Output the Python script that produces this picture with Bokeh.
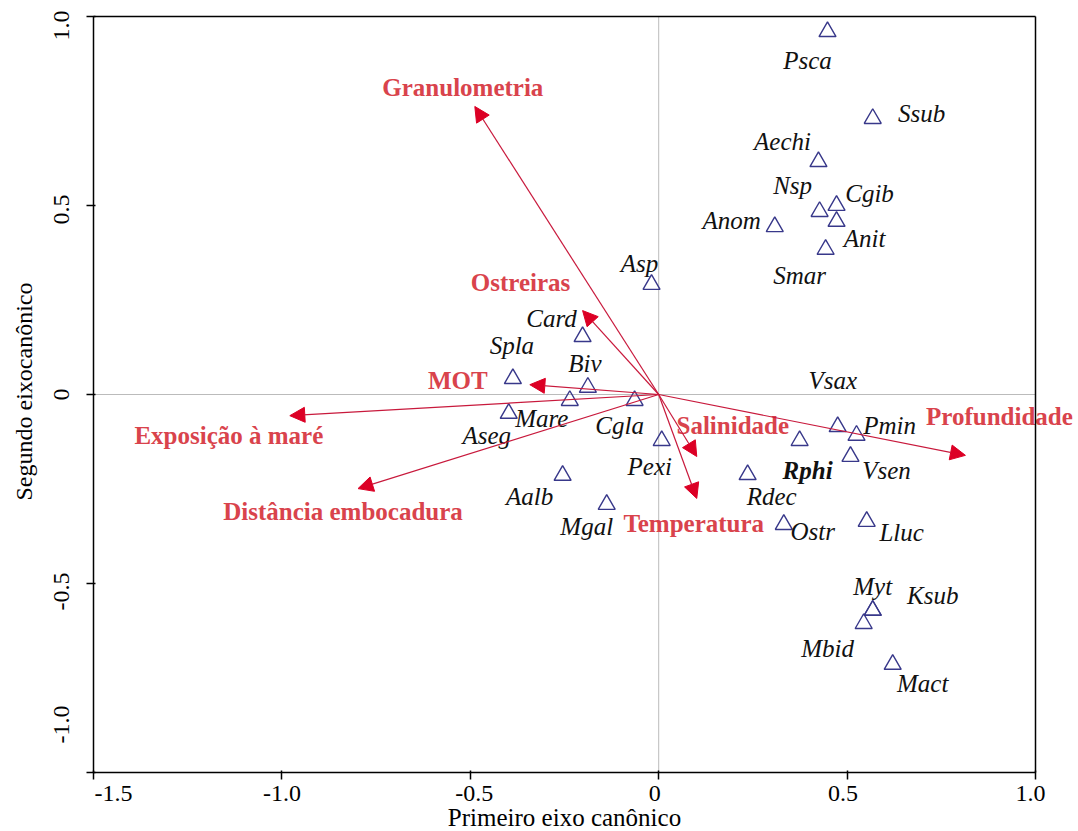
import math
from bokeh.plotting import figure
from bokeh.models import (ColumnDataSource, Arrow, NormalHead, FixedTicker,
                          LinearAxis, Range1d)
from bokeh.core.properties import value
from bokeh.embed import file_html
from bokeh.resources import INLINE

# ---- species scores (triangles) ----
species = ["Psca", "Ssub", "Aechi", "Cgib", "Nsp", "Anit", "Anom", "Smar",
           "Asp", "Card", "Spla", "Biv", "Mare", "Cgla", "Aseg", "Pexi",
           "Aalb", "Mgal", "Vsax", "Pmin", "Rphi", "Rdec", "Vsen", "Ostr",
           "Lluc", "Myt", "Ksub", "Mbid", "Mact"]
sp_x = [0.448, 0.568, 0.424, 0.472, 0.427, 0.472, 0.308, 0.443,
        -0.019, -0.202, -0.387, -0.188, -0.236, -0.064, -0.398, 0.008,
        -0.255, -0.138, 0.475, 0.525, 0.374, 0.236, 0.509, 0.332,
        0.552, 0.568, 0.568, 0.544, 0.621]
sp_y = [0.960, 0.730, 0.616, 0.500, 0.484, 0.458, 0.444, 0.384,
        0.291, 0.153, 0.042, 0.019, -0.016, -0.016, -0.050, -0.122,
        -0.214, -0.291, -0.085, -0.108, -0.122, -0.212, -0.164, -0.344,
        -0.336, -0.571, -0.571, -0.606, -0.714]
# label offsets (screen px, y downwards)
sp_dx = [-20, 49, -36, 33, -27, 28, -43, -26,
         -12, -31, -1, -3, -28, -15, -22, -12,
         -33, -20, -5, 33, 8, 24, 36, 29,
         35, 0, 60, -36, 30]
sp_dy = [29, -5, -20, -12, -26, 17, -6, 26,
         -21, -18, -33, -24, 18, 25, 22, 26,
         21, 22, -46, -10, 30, 22, 14, 7,
         11, -24, -15, 25, 19]
sp_style = ["bold italic" if s == "Rphi" else "italic" for s in species]

# ---- environmental vectors ----
env_names = ["Granulometria", "Ostreiras", "MOT", "Exposição à maré",
             "Distância embocadura", "Salinidade", "Temperatura", "Profundidade"]
env_x = [-0.488, -0.202, -0.342, -0.979, -0.798, 0.101, 0.101, 0.814]
env_y = [0.762, 0.222, 0.026, -0.056, -0.249, -0.164, -0.275, -0.161]
env_dx = [-12, -62, -72, -61, -15, 36, -3, 34]
env_dy = [-19, -28, -4, 20, 23, -31, 25, -39]

x_ticks = [-1.5, -1.0, -0.5, 0, 0.5, 1.0]
y_ticks = [-1.0, -0.5, 0, 0.5, 1.0]
x_tick_labels = ["-1.5", "-1.0", "-0.5", "0", "0.5", "1.0"]
y_tick_labels = ["-1.0", "-0.5", "0", "0.5", "1.0"]
x_title = "Primeiro eixo canônico"
y_title = "Segundo eixocanônico"

FONT = "Liberation Serif"
RED_TXT = "#d9434c"

# ---- layout: the axis box occupies these pixels of the 1078x831 canvas ----
W, H = 1078, 831
BOX_L, BOX_R, BOX_T, BOX_B = 93, 1035, 16, 772
X_MIN, X_MAX = -1.5, 1.0
Y_MIN, Y_MAX = -1.0, 1.0
ux = (X_MAX - X_MIN) / (BOX_R - BOX_L)
uy = (Y_MAX - Y_MIN) / (BOX_B - BOX_T)
xr = Range1d(X_MIN - BOX_L * ux, X_MAX + (W - BOX_R) * ux)
yr = Range1d(Y_MIN - (H - BOX_B) * uy, Y_MAX + BOX_T * uy)

p = figure(width=W, height=H, x_range=xr, y_range=yr,
           output_backend="svg", toolbar_location=None,
           min_border=0)
p.background_fill_color = "white"
p.border_fill_color = "white"
p.grid.visible = False
p.outline_line_color = None

def style_axis(ax, ticks):
    ax.ticker = FixedTicker(ticks=ticks)
    ax.axis_line_width = 1.5
    ax.axis_line_color = "black"
    ax.major_tick_line_color = "black"
    ax.major_tick_line_width = 1.5
    ax.major_tick_out = 7
    ax.major_tick_in = 2
    ax.minor_tick_line_color = None
    ax.major_label_text_font_size = "0px"
    ax.major_label_standoff = 0
    ax.major_label_overrides = {t: "" for t in ticks}

xa = p.xaxis[0]
ya = p.yaxis[0]
style_axis(xa, x_ticks)
style_axis(ya, y_ticks)
xa.fixed_location = Y_MIN
xa.bounds = (X_MIN, X_MAX)
ya.fixed_location = X_MIN
ya.bounds = (Y_MIN, Y_MAX)

# closing the box: top and right lines without ticks
top_ax = LinearAxis(fixed_location=Y_MAX, bounds=(X_MIN, X_MAX))
right_ax = LinearAxis(fixed_location=X_MAX, bounds=(Y_MIN, Y_MAX))
for ax in (top_ax, right_ax):
    style_axis(ax, [])
    ax.major_tick_line_color = None
p.add_layout(top_ax, "above")
p.add_layout(right_ax, "right")

# tick labels
xt_src = ColumnDataSource(dict(x=x_ticks, y=[Y_MIN] * len(x_ticks), t=x_tick_labels,
                               dx=[20, 0, 4, -4, -4, -5]))
p.text(x="x", y="y", text="t", x_offset="dx", y_offset=21, source=xt_src,
       text_font=value(FONT), text_font_size="24px", text_color="black",
       text_align="center", text_baseline="middle")
yt_src = ColumnDataSource(dict(x=[X_MIN] * len(y_ticks), y=y_ticks, t=y_tick_labels,
                               dy=[-48, 8, 0, 4, 9]))
p.text(x="x", y="y", text="t", x_offset=-32, y_offset="dy", angle=math.pi / 2,
       source=yt_src, text_font=value(FONT), text_font_size="24px",
       text_color="black", text_align="center", text_baseline="middle")

# axis titles
p.text(x=[(X_MIN + X_MAX) / 2], y=[Y_MIN], text=[x_title], y_offset=45,
       text_font=value(FONT), text_font_size="25px", text_color="black",
       text_align="center", text_baseline="middle")
p.text(x=[X_MIN], y=[(Y_MIN + Y_MAX) / 2], text=[y_title], x_offset=-70, y_offset=-3,
       angle=math.pi / 2, text_font=value(FONT), text_font_size="24px",
       text_color="black", text_align="center", text_baseline="middle")

# zero reference lines (dotted), limited to the box
p.segment(x0=[0, X_MIN], y0=[Y_MIN, 0], x1=[0, X_MAX], y1=[Y_MAX, 0],
          line_color="#777777", line_width=1, line_dash="1 1")

# environmental arrows
env_src = ColumnDataSource(dict(x0=[0.0] * len(env_x), y0=[0.0] * len(env_y),
                                x1=env_x, y1=env_y, name=env_names,
                                dx=env_dx, dy=env_dy))
p.add_layout(Arrow(source=env_src, x_start="x0", y_start="y0", x_end="x1", y_end="y1",
                   line_color="#c8193c", line_width=1.2,
                   end=NormalHead(size=15, fill_color="#dc0025",
                                  line_color="#dc0025", line_width=1)))
p.text(x="x1", y="y1", text="name", x_offset="dx", y_offset="dy", source=env_src,
       text_font=value(FONT), text_font_size="25px", text_font_style="bold",
       text_color=RED_TXT, text_align="center", text_baseline="middle")

# species
sp_src = ColumnDataSource(dict(x=sp_x, y=sp_y, name=species, dx=sp_dx, dy=sp_dy,
                               style=sp_style))
p.scatter(x="x", y="y", source=sp_src, marker="triangle", size=17,
          fill_color=None, line_color="#38388a", line_width=1.4)
p.text(x="x", y="y", text="name", x_offset="dx", y_offset="dy", source=sp_src,
       text_font=value(FONT), text_font_size="25px", text_font_style="style",
       text_color="#111111", text_align="center", text_baseline="middle")

open("out.html", "w").write(file_html(p, INLINE))
